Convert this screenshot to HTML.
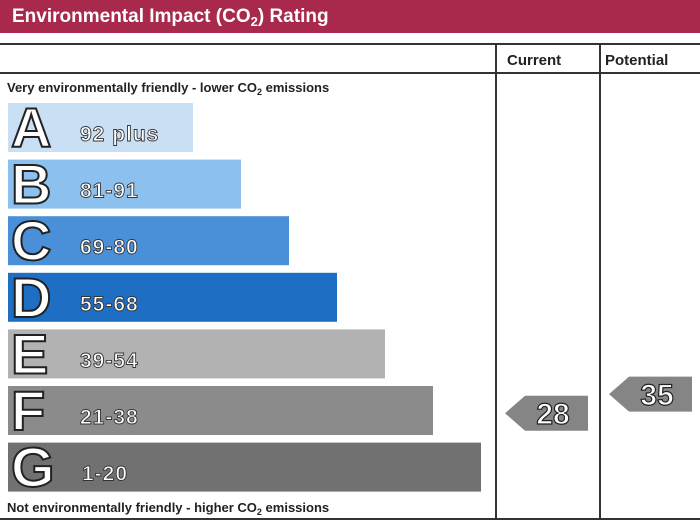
<!DOCTYPE html>
<html><head><meta charset="utf-8"><style>
body{margin:0;background:#fff}
svg{display:block;font-family:"Liberation Sans",Arial,sans-serif}
</style></head><body>
<svg id="chart" width="700" height="525" viewBox="0 0 700 525">
<rect x="0" y="0" width="700" height="33" fill="#a8294b"/>
<text x="12" y="22" font-size="19" font-weight="bold" fill="#fff">Environmental Impact (CO<tspan font-size="13" dy="4">2</tspan><tspan dy="-4">) Rating</tspan></text>
<g stroke="#333" stroke-width="2" fill="none">
<line x1="0" y1="44" x2="700" y2="44"/>
<line x1="0" y1="73" x2="700" y2="73"/>
<line x1="0" y1="519" x2="700" y2="519"/>
<line x1="496" y1="44" x2="496" y2="519"/>
<line x1="600" y1="44" x2="600" y2="519"/>
</g>
<text x="507" y="65" font-size="15" font-weight="bold" fill="#222">Current</text>
<text x="605" y="65" font-size="15" font-weight="bold" fill="#222">Potential</text>
<text x="7" y="92" font-size="13" font-weight="bold" fill="#222">Very environmentally friendly - lower CO<tspan font-size="9" dy="3">2</tspan><tspan dy="-3"> emissions</tspan></text>
<text x="7" y="512" font-size="13" font-weight="bold" fill="#222">Not environmentally friendly - higher CO<tspan font-size="9" dy="3">2</tspan><tspan dy="-3"> emissions</tspan></text>
<g id="bands"></g>
<g id="arrows"></g>
</svg>
<script>
const letters=["A","B","C","D","E","F","G"];
const ranges=["92 plus","81-91","69-80","55-68","39-54","21-38","1-20"];
const bandMin=[92,81,69,55,39,21,1];
const bandMax=[100,91,80,68,54,38,20];
const colors=["#c9e0f4","#8cc0ee","#4a90d9","#1e6fc3","#b2b2b2","#8b8b8b","#717171"];
const ratingLabels=["Current","Potential"];
const ratingValues=[28,35];
const NS="http://www.w3.org/2000/svg";
const bandTop=i=>103+i*56.6, bandH=49;
const bandW=i=>185+i*48;
function valueY(v){
  for(let i=0;i<bandMin.length;i++){
    if(v>=bandMin[i]&&v<=bandMax[i]){
      return bandTop(i)+(bandMax[i]-v)/(bandMax[i]-bandMin[i]+1)*bandH;
    }
  }
  return bandTop(6)+bandH;
}
function mk(tag,attrs,parent){const e=document.createElementNS(NS,tag);for(const k in attrs)e.setAttribute(k,attrs[k]);parent.appendChild(e);return e;}
const bg=document.getElementById("bands");
letters.forEach((L,i)=>{
  const y=bandTop(i);
  const r=mk("rect",{x:8,y:y,width:bandW(i),height:bandH,fill:colors[i]},bg);
  
  
  const t=mk("text",{x:11,y:y+44,"font-size":56,"font-weight":"bold",fill:"#fff",stroke:"#222","stroke-width":2},bg);
  t.textContent=L;
  
  
  const rt=mk("text",{x:L==="G"?82:80,y:y+38,"font-size":21,"font-weight":"bold","letter-spacing":1,fill:"#fff",stroke:"#333","stroke-width":0.9},bg);
  rt.textContent=ranges[i];
  
  
});
const ag=document.getElementById("arrows");
const colX=[505,609];
ratingValues.forEach((v,i)=>{
  const cy=valueY(v), x=colX[i], w=83, h=35;
  const p=mk("polygon",{points:`${x},${cy} ${x+20},${cy-h/2} ${x+w},${cy-h/2} ${x+w},${cy+h/2} ${x+20},${cy+h/2}`,fill:"#858585"},ag);
  
  
  const t=mk("text",{x:x+48,y:cy+11,"font-size":30,"font-weight":"bold","text-anchor":"middle",fill:"#fff",stroke:"#222","stroke-width":1.2},ag);
  t.textContent=v;
  
  
});
</script>
</body></html>
